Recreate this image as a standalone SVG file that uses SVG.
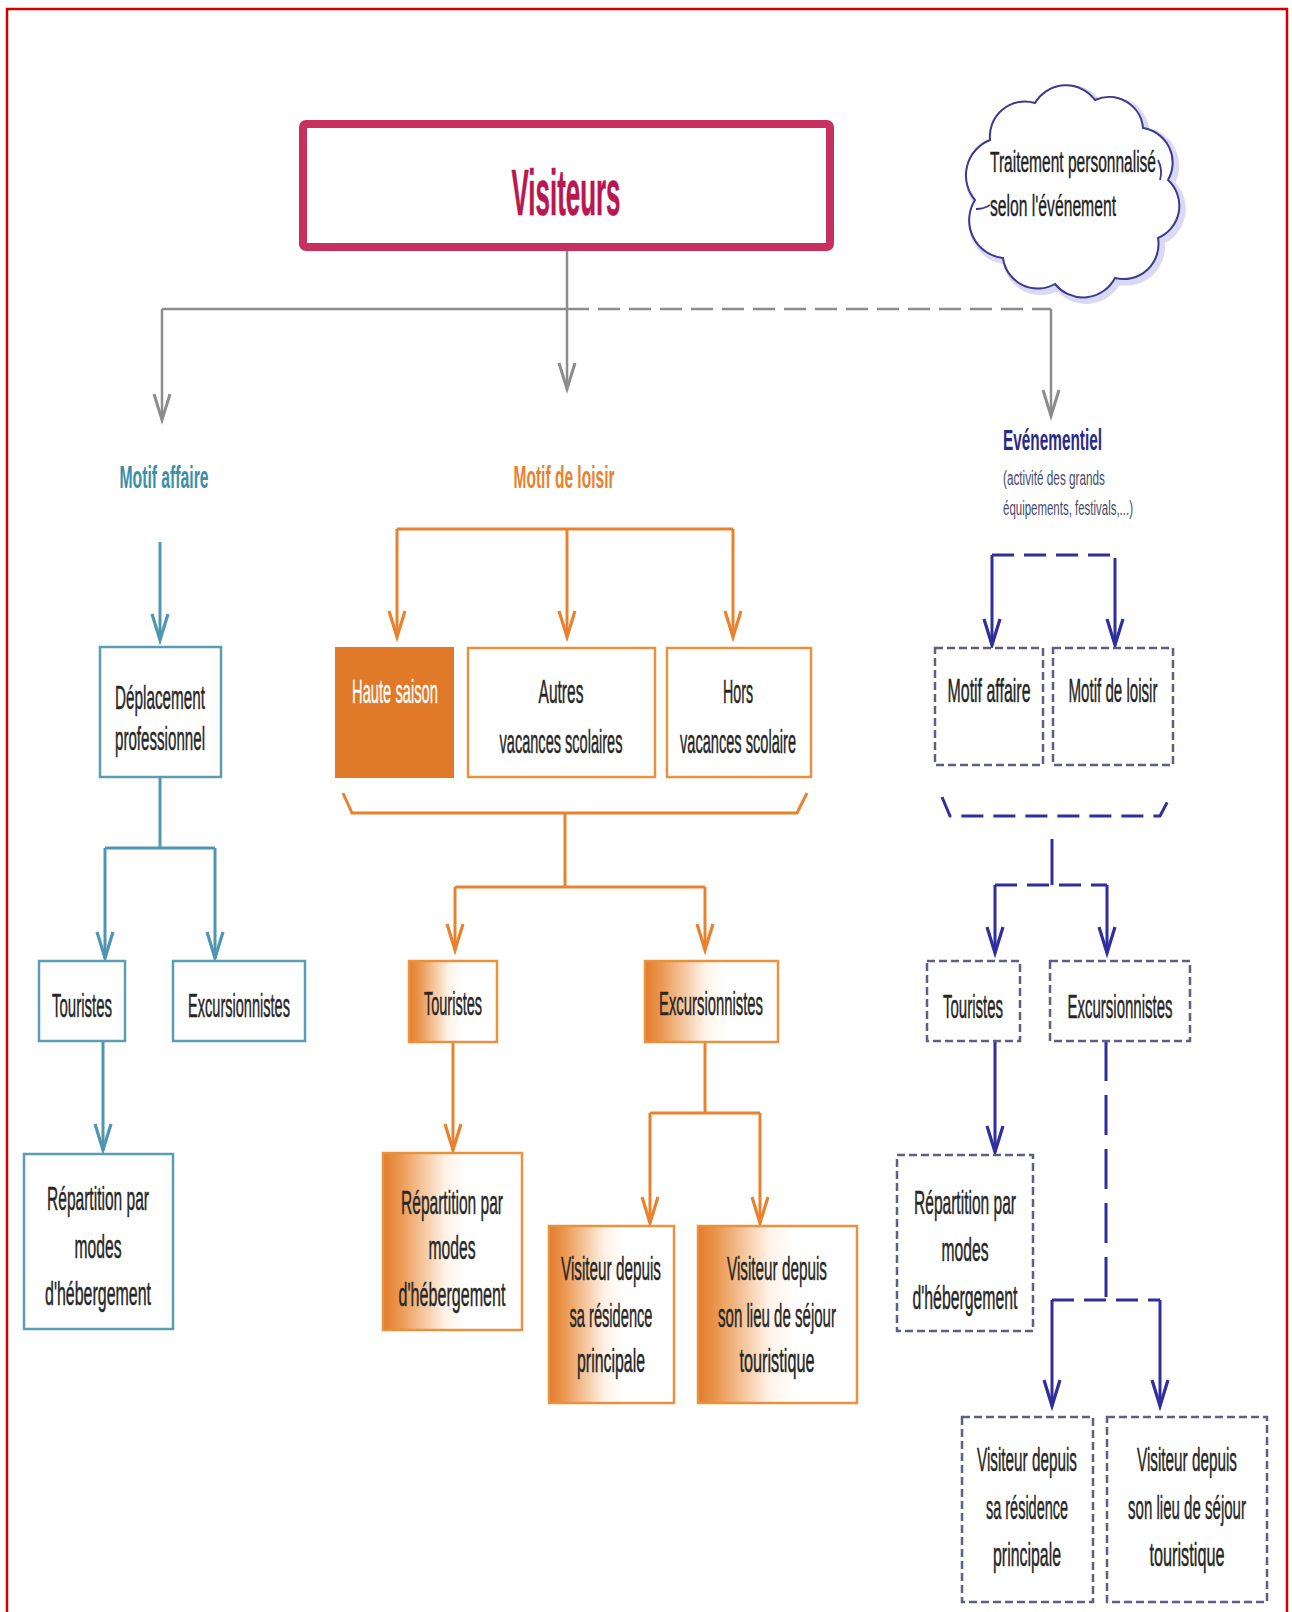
<svg xmlns="http://www.w3.org/2000/svg" width="1292" height="1612" viewBox="0 0 1292 1612">
<defs>
<style>
text { font-family: "Liberation Sans", Arial, sans-serif; }
.t { font-size:34px; fill:#262626; stroke:#262626; stroke-width:0.5; text-anchor:middle; }
.tw { font-size:34px; fill:#ffffff; stroke:#ffffff; stroke-width:0.3; text-anchor:middle; }
.title { font-size:32px; font-weight:bold; text-anchor:middle; }
.small { font-size:20px; fill:#4a4a6a; }
.cg { fill:none; stroke:#8c8c8c; stroke-width:2.5; }
.ct { fill:none; stroke:#4f97b0; stroke-width:3; }
.co { fill:none; stroke:#e8822e; stroke-width:3; }
.cn { fill:none; stroke:#2e2e9c; stroke-width:3; }
.bt { fill:#ffffff; stroke:#5a9db5; stroke-width:2.5; }
.bo { fill:#ffffff; stroke:#e8923f; stroke-width:2.5; }
.bg { fill:url(#og); stroke:#e8923f; stroke-width:2.5; }
.bn { fill:#ffffff; stroke:#5e5e88; stroke-width:2.5; stroke-dasharray:8 4; }
</style>
<linearGradient id="og" x1="0" y1="0" x2="1" y2="0">
<stop offset="0" stop-color="#e37b2d"/>
<stop offset="0.12" stop-color="#ea974f"/>
<stop offset="0.45" stop-color="#fff3e8"/>
<stop offset="0.6" stop-color="#ffffff"/>
</linearGradient>
<marker id="ag" markerUnits="userSpaceOnUse" viewBox="-28 -10 32 20" markerWidth="32" markerHeight="20" refX="0" refY="0" orient="auto" overflow="visible">
<path d="M-26,-8 L0,0 L-26,8" fill="none" stroke="#8c8c8c" stroke-width="3"/>
</marker>
<marker id="at" markerUnits="userSpaceOnUse" viewBox="-28 -10 32 20" markerWidth="32" markerHeight="20" refX="0" refY="0" orient="auto" overflow="visible">
<path d="M-26,-8 L0,0 L-26,8" fill="none" stroke="#4f97b0" stroke-width="3.2"/>
</marker>
<marker id="ao" markerUnits="userSpaceOnUse" viewBox="-28 -10 32 20" markerWidth="32" markerHeight="20" refX="0" refY="0" orient="auto" overflow="visible">
<path d="M-26,-8 L0,0 L-26,8" fill="none" stroke="#e8822e" stroke-width="3.2"/>
</marker>
<marker id="an" markerUnits="userSpaceOnUse" viewBox="-28 -10 32 20" markerWidth="32" markerHeight="20" refX="0" refY="0" orient="auto" overflow="visible">
<path d="M-26,-8 L0,0 L-26,8" fill="none" stroke="#2e2e9c" stroke-width="3.2"/>
</marker>
</defs>
<rect x="0" y="0" width="1292" height="1612" fill="#ffffff"/>
<rect id="frame" x="7" y="9" width="1280" height="1610" fill="none" stroke="#d00000" stroke-width="2.5"/>

<g id="connectors">
<g id="gray">
<path class="cg" d="M567,247 V389" marker-end="url(#ag)"/>
<path class="cg" d="M162,309 H567" stroke-width="4.5"/>
<path class="cg" d="M567,309 H1051" stroke-width="4.5" stroke-dasharray="22 9"/>
<path class="cg" d="M162,309 V420" marker-end="url(#ag)"/>
<path class="cg" d="M1051,309 V416" marker-end="url(#ag)"/>
</g>
<g id="teal">
<path class="ct" d="M160,542 V640" marker-end="url(#at)"/>
<path class="ct" d="M160,777 V848"/>
<path class="ct" d="M105,848 H215" stroke-width="4"/>
<path class="ct" d="M105,848 V958" marker-end="url(#at)"/>
<path class="ct" d="M215,848 V958" marker-end="url(#at)"/>
<path class="ct" d="M103,1041 V1150" marker-end="url(#at)"/>
</g>
<g id="orange">
<path class="co" d="M397,529 H733" stroke-width="4.5"/>
<path class="co" d="M397,529 V637" marker-end="url(#ao)"/>
<path class="co" d="M567,529 V637" marker-end="url(#ao)"/>
<path class="co" d="M733,529 V637" marker-end="url(#ao)"/>
<path class="co" d="M343,793 L352,813 H797 L807,793" stroke-width="4.5"/>
<path class="co" d="M565,813 V887"/>
<path class="co" d="M455,887 H705" stroke-width="4.5"/>
<path class="co" d="M455,887 V950" marker-end="url(#ao)"/>
<path class="co" d="M705,887 V950" marker-end="url(#ao)"/>
<path class="co" d="M453,1042 V1150" marker-end="url(#ao)"/>
<path class="co" d="M705,1042 V1113"/>
<path class="co" d="M650,1113 H760" stroke-width="4.5"/>
<path class="co" d="M650,1113 V1223" marker-end="url(#ao)"/>
<path class="co" d="M760,1113 V1223" marker-end="url(#ao)"/>
</g>
<g id="navy">
<path class="cn" d="M992,555 H1115" stroke-width="4.5" stroke-dasharray="22 10"/>
<path class="cn" d="M992,555 V645" marker-end="url(#an)"/>
<path class="cn" d="M1115,558 V645" marker-end="url(#an)"/>
<path class="cn" d="M942,797 L950,816 H1160 L1170,797" stroke-width="4.5" stroke-dasharray="22 10"/>
<path class="cn" d="M1052,839 V885" stroke-width="2.5"/>
<path class="cn" d="M995,885 H1107" stroke-width="4.5" stroke-dasharray="22 10"/>
<path class="cn" d="M995,885 V953" marker-end="url(#an)"/>
<path class="cn" d="M1107,885 V953" marker-end="url(#an)"/>
<path class="cn" d="M995,1041 V1152" marker-end="url(#an)"/>
<path class="cn" d="M1106,1041 V1300" stroke-dasharray="40 14"/>
<path class="cn" d="M1052,1300 H1160" stroke-width="4.5" stroke-dasharray="22 10"/>
<path class="cn" d="M1052,1300 V1406" marker-end="url(#an)"/>
<path class="cn" d="M1160,1300 V1406" marker-end="url(#an)"/>
</g>
</g>

<g id="visiteurs">
<rect x="303" y="124" width="527" height="123" rx="3" fill="#ffffff" stroke="#c8315f" stroke-width="8"/>
<text x="566" y="215" font-size="64" font-weight="bold" fill="#b8174f" stroke="#b8174f" stroke-width="0.6" text-anchor="middle" textLength="109" lengthAdjust="spacingAndGlyphs">Visiteurs</text>
</g>

<g id="cloud">
<path d="M978,203 A38,38 0 0 1 993,143 A35,35 0 0 1 1038,106 A36,36 0 0 1 1098,103 A34,34 0 0 1 1146,131 A35,35 0 0 1 1171,183 A35,35 0 0 1 1161,241 A35,35 0 0 1 1118,281 A36,36 0 0 1 1058,287 A35,35 0 0 1 1006,261 A38,38 0 0 1 978,203 Z" fill="none" stroke="#c9c9ef" stroke-width="7" opacity="0.7"/>
<path d="M975,200 A38,38 0 0 1 990,140 A35,35 0 0 1 1035,103 A36,36 0 0 1 1095,100 A34,34 0 0 1 1143,128 A35,35 0 0 1 1168,180 A35,35 0 0 1 1158,238 A35,35 0 0 1 1115,278 A36,36 0 0 1 1055,284 A35,35 0 0 1 1003,258 A38,38 0 0 1 975,200 Z" fill="#ffffff" stroke="#3a3a8e" stroke-width="2"/>
<path d="M976,209 Q984,209 990,205" fill="none" stroke="#3a3a8e" stroke-width="1.8"/>
<path d="M1158,160 Q1163,170 1160,180" fill="none" stroke="#3a3a8e" stroke-width="1.8"/>
<text x="990" y="172" font-size="30" fill="#222222" stroke="#222222" stroke-width="0.4" textLength="166" lengthAdjust="spacingAndGlyphs">Traitement personnalisé</text>
<text x="990" y="216" font-size="30" fill="#222222" stroke="#222222" stroke-width="0.4" textLength="126" lengthAdjust="spacingAndGlyphs">selon l'événement</text>
</g>

<g id="motif-affaire-title">
<text class="title" x="164" y="488" fill="#3b8fa8" textLength="89" lengthAdjust="spacingAndGlyphs">Motif affaire</text>
</g>
<g id="motif-loisir-title">
<text class="title" x="564" y="488" fill="#e8822e" textLength="101" lengthAdjust="spacingAndGlyphs">Motif de loisir</text>
</g>
<g id="evenementiel-title">
<text x="1003" y="450" font-size="30" font-weight="bold" fill="#2a2a8c" textLength="99" lengthAdjust="spacingAndGlyphs">Evénementiel</text>
<text class="small" x="1003" y="485" textLength="102" lengthAdjust="spacingAndGlyphs">(activité des grands</text>
<text class="small" x="1003" y="515" textLength="130" lengthAdjust="spacingAndGlyphs">équipements, festivals,...)</text>
</g>

<g id="teal-deplacement">
<rect class="bt" x="100" y="647" width="121" height="130"/>
<text class="t" x="160" y="709" textLength="90" lengthAdjust="spacingAndGlyphs">Déplacement</text>
<text class="t" x="160" y="750" textLength="90" lengthAdjust="spacingAndGlyphs">professionnel</text>
</g>
<g id="teal-touristes">
<rect class="bt" x="39" y="961" width="86" height="80"/>
<text class="t" x="82" y="1017" textLength="60" lengthAdjust="spacingAndGlyphs">Touristes</text>
</g>
<g id="teal-excursionnistes">
<rect class="bt" x="173" y="961" width="132" height="80"/>
<text class="t" x="239" y="1017" textLength="102" lengthAdjust="spacingAndGlyphs">Excursionnistes</text>
</g>
<g id="teal-repartition">
<rect class="bt" x="24" y="1154" width="149" height="175"/>
<text class="t" x="98" y="1210" textLength="102" lengthAdjust="spacingAndGlyphs">Répartition par</text>
<text class="t" x="98" y="1258" textLength="47" lengthAdjust="spacingAndGlyphs">modes</text>
<text class="t" x="98" y="1305" textLength="106" lengthAdjust="spacingAndGlyphs">d'hébergement</text>
</g>

<g id="orange-haute-saison">
<rect x="336" y="648" width="117" height="129" fill="#e07a28" stroke="#e07a28" stroke-width="2"/>
<text class="tw" x="395" y="703" textLength="86" lengthAdjust="spacingAndGlyphs">Haute saison</text>
</g>
<g id="orange-autres">
<rect class="bo" x="468" y="648" width="187" height="129"/>
<text class="t" x="561" y="703" textLength="45" lengthAdjust="spacingAndGlyphs">Autres</text>
<text class="t" x="561" y="753" textLength="123" lengthAdjust="spacingAndGlyphs">vacances scolaires</text>
</g>
<g id="orange-hors">
<rect class="bo" x="667" y="648" width="144" height="129"/>
<text class="t" x="738" y="703" textLength="30" lengthAdjust="spacingAndGlyphs">Hors</text>
<text class="t" x="738" y="753" textLength="116" lengthAdjust="spacingAndGlyphs">vacances scolaire</text>
</g>
<g id="orange-touristes">
<rect class="bg" x="409" y="961" width="88" height="81"/>
<text class="t" x="453" y="1015" textLength="58" lengthAdjust="spacingAndGlyphs">Touristes</text>
</g>
<g id="orange-excursionnistes">
<rect class="bg" x="645" y="961" width="133" height="81"/>
<text class="t" x="711" y="1015" textLength="104" lengthAdjust="spacingAndGlyphs">Excursionnistes</text>
</g>
<g id="orange-repartition">
<rect class="bg" x="383" y="1153" width="139" height="177"/>
<text class="t" x="452" y="1214" textLength="102" lengthAdjust="spacingAndGlyphs">Répartition par</text>
<text class="t" x="452" y="1259" textLength="47" lengthAdjust="spacingAndGlyphs">modes</text>
<text class="t" x="452" y="1306" textLength="107" lengthAdjust="spacingAndGlyphs">d'hébergement</text>
</g>
<g id="orange-visiteur-residence">
<rect class="bg" x="549" y="1226" width="125" height="177"/>
<text class="t" x="611" y="1280" textLength="100" lengthAdjust="spacingAndGlyphs">Visiteur depuis</text>
<text class="t" x="611" y="1327" textLength="83" lengthAdjust="spacingAndGlyphs">sa résidence</text>
<text class="t" x="611" y="1372" textLength="68" lengthAdjust="spacingAndGlyphs">principale</text>
</g>
<g id="orange-visiteur-sejour">
<rect class="bg" x="698" y="1226" width="159" height="177"/>
<text class="t" x="777" y="1280" textLength="100" lengthAdjust="spacingAndGlyphs">Visiteur depuis</text>
<text class="t" x="777" y="1327" textLength="118" lengthAdjust="spacingAndGlyphs">son lieu de séjour</text>
<text class="t" x="777" y="1372" textLength="75" lengthAdjust="spacingAndGlyphs">touristique</text>
</g>

<g id="navy-motif-affaire">
<rect class="bn" x="935" y="648" width="108" height="117"/>
<text class="t" x="989" y="702" textLength="83" lengthAdjust="spacingAndGlyphs">Motif affaire</text>
</g>
<g id="navy-motif-loisir">
<rect class="bn" x="1053" y="648" width="120" height="117"/>
<text class="t" x="1113" y="702" textLength="89" lengthAdjust="spacingAndGlyphs">Motif de loisir</text>
</g>
<g id="navy-touristes">
<rect class="bn" x="927" y="961" width="93" height="80"/>
<text class="t" x="973" y="1018" textLength="60" lengthAdjust="spacingAndGlyphs">Touristes</text>
</g>
<g id="navy-excursionnistes">
<rect class="bn" x="1050" y="961" width="140" height="80"/>
<text class="t" x="1120" y="1018" textLength="105" lengthAdjust="spacingAndGlyphs">Excursionnistes</text>
</g>
<g id="navy-repartition">
<rect class="bn" x="897" y="1155" width="136" height="176"/>
<text class="t" x="965" y="1214" textLength="102" lengthAdjust="spacingAndGlyphs">Répartition par</text>
<text class="t" x="965" y="1261" textLength="47" lengthAdjust="spacingAndGlyphs">modes</text>
<text class="t" x="965" y="1309" textLength="105" lengthAdjust="spacingAndGlyphs">d'hébergement</text>
</g>
<g id="navy-visiteur-residence">
<rect class="bn" x="962" y="1417" width="131" height="185"/>
<text class="t" x="1027" y="1471" textLength="100" lengthAdjust="spacingAndGlyphs">Visiteur depuis</text>
<text class="t" x="1027" y="1519" textLength="82" lengthAdjust="spacingAndGlyphs">sa résidence</text>
<text class="t" x="1027" y="1566" textLength="68" lengthAdjust="spacingAndGlyphs">principale</text>
</g>
<g id="navy-visiteur-sejour">
<rect class="bn" x="1107" y="1417" width="160" height="185"/>
<text class="t" x="1187" y="1471" textLength="100" lengthAdjust="spacingAndGlyphs">Visiteur depuis</text>
<text class="t" x="1187" y="1519" textLength="118" lengthAdjust="spacingAndGlyphs">son lieu de séjour</text>
<text class="t" x="1187" y="1566" textLength="75" lengthAdjust="spacingAndGlyphs">touristique</text>
</g>
</svg>
